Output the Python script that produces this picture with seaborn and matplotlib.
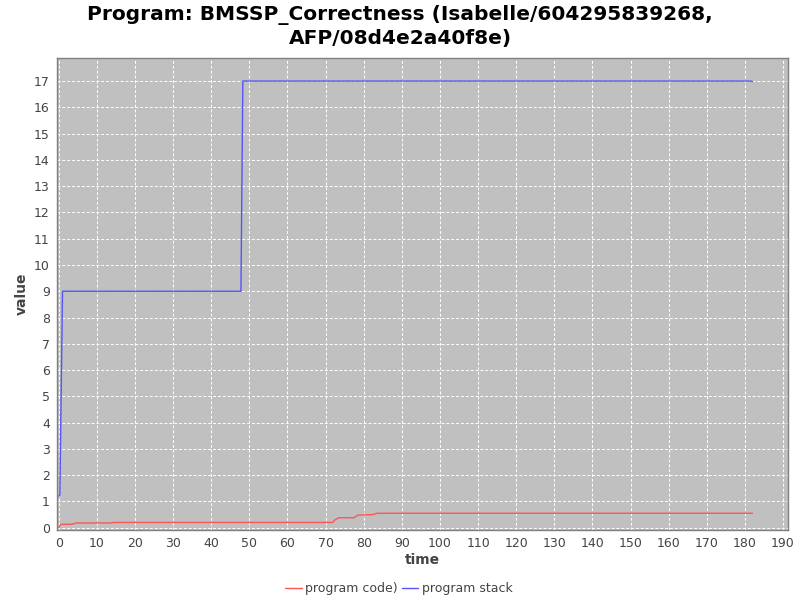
import matplotlib
matplotlib.use("Agg")
import matplotlib.pyplot as plt
import seaborn as sns
import pandas as pd
import numpy as np

# Data
stack_time = [0, 0.3, 1.0, 47.8, 48.3, 181.5, 182]
stack_value = [1.2, 1.25, 9.0, 9.0, 17.0, 17.0, 16.98]
code_time = [0, 0.5, 1.0, 3.5, 4.5, 13.5, 14.5, 71.8, 72.5, 73.5, 77.5, 78.5, 82.5, 83.5, 182]
code_value = [0.0, 0.12, 0.13, 0.13, 0.18, 0.18, 0.2, 0.2, 0.3, 0.38, 0.38, 0.48, 0.5, 0.55, 0.55]
series_names = ["program code)", "program stack"]
series_colors = ["#FF5555", "#5555FF"]
title_text = "Program: BMSSP_Correctness (Isabelle/604295839268,\nAFP/08d4e2a40f8e)"

df = pd.concat([
    pd.DataFrame({"time": code_time, "value": code_value, "series": series_names[0]}),
    pd.DataFrame({"time": stack_time, "value": stack_value, "series": series_names[1]}),
])

sns.set_style("white")
plt.rcParams['font.family'] = ['DejaVu Sans']

fig = plt.figure(figsize=(8, 6), dpi=100)
ax = fig.add_axes([0.071, 0.117, 0.914, 0.786])
ax.set_facecolor("#C0C0C0")

sns.lineplot(data=df, x="time", y="value", hue="series", palette=series_colors,
             ax=ax, linewidth=1.0, estimator=None, sort=False, legend=True)

ax.set_xlim(-0.5, 191.3)
ax.set_ylim(-0.08, 17.87)
ax.set_xticks(np.arange(0, 191, 10))
ax.set_yticks(np.arange(0, 18, 1))
ax.grid(True, color="white", linestyle=(0, (3, 2)), linewidth=0.7)
ax.set_axisbelow(True)
for s in ax.spines.values():
    s.set_color("#808080")
    s.set_linewidth(1.0)
ax.tick_params(axis="both", labelsize=9, colors="#444444", length=3, width=0.6, pad=2)
ax.set_xlabel("time", fontsize=10, fontweight="bold", color="#444444", labelpad=2)
ax.set_ylabel("value", fontsize=10, fontweight="bold", color="#444444", labelpad=4)

fig.suptitle(title_text, fontsize=14.5, fontweight="bold", y=0.992, linespacing=1.25,
             color="black")

handles, labels = ax.get_legend_handles_labels()
ax.legend(handles, labels, loc="lower center", bbox_to_anchor=(0.468, -0.162),
          ncol=2, frameon=False, fontsize=9, handlelength=1.3, handletextpad=0.3,
          columnspacing=0.3, labelcolor="#444444")

fig.savefig("out.png", dpi=100)
